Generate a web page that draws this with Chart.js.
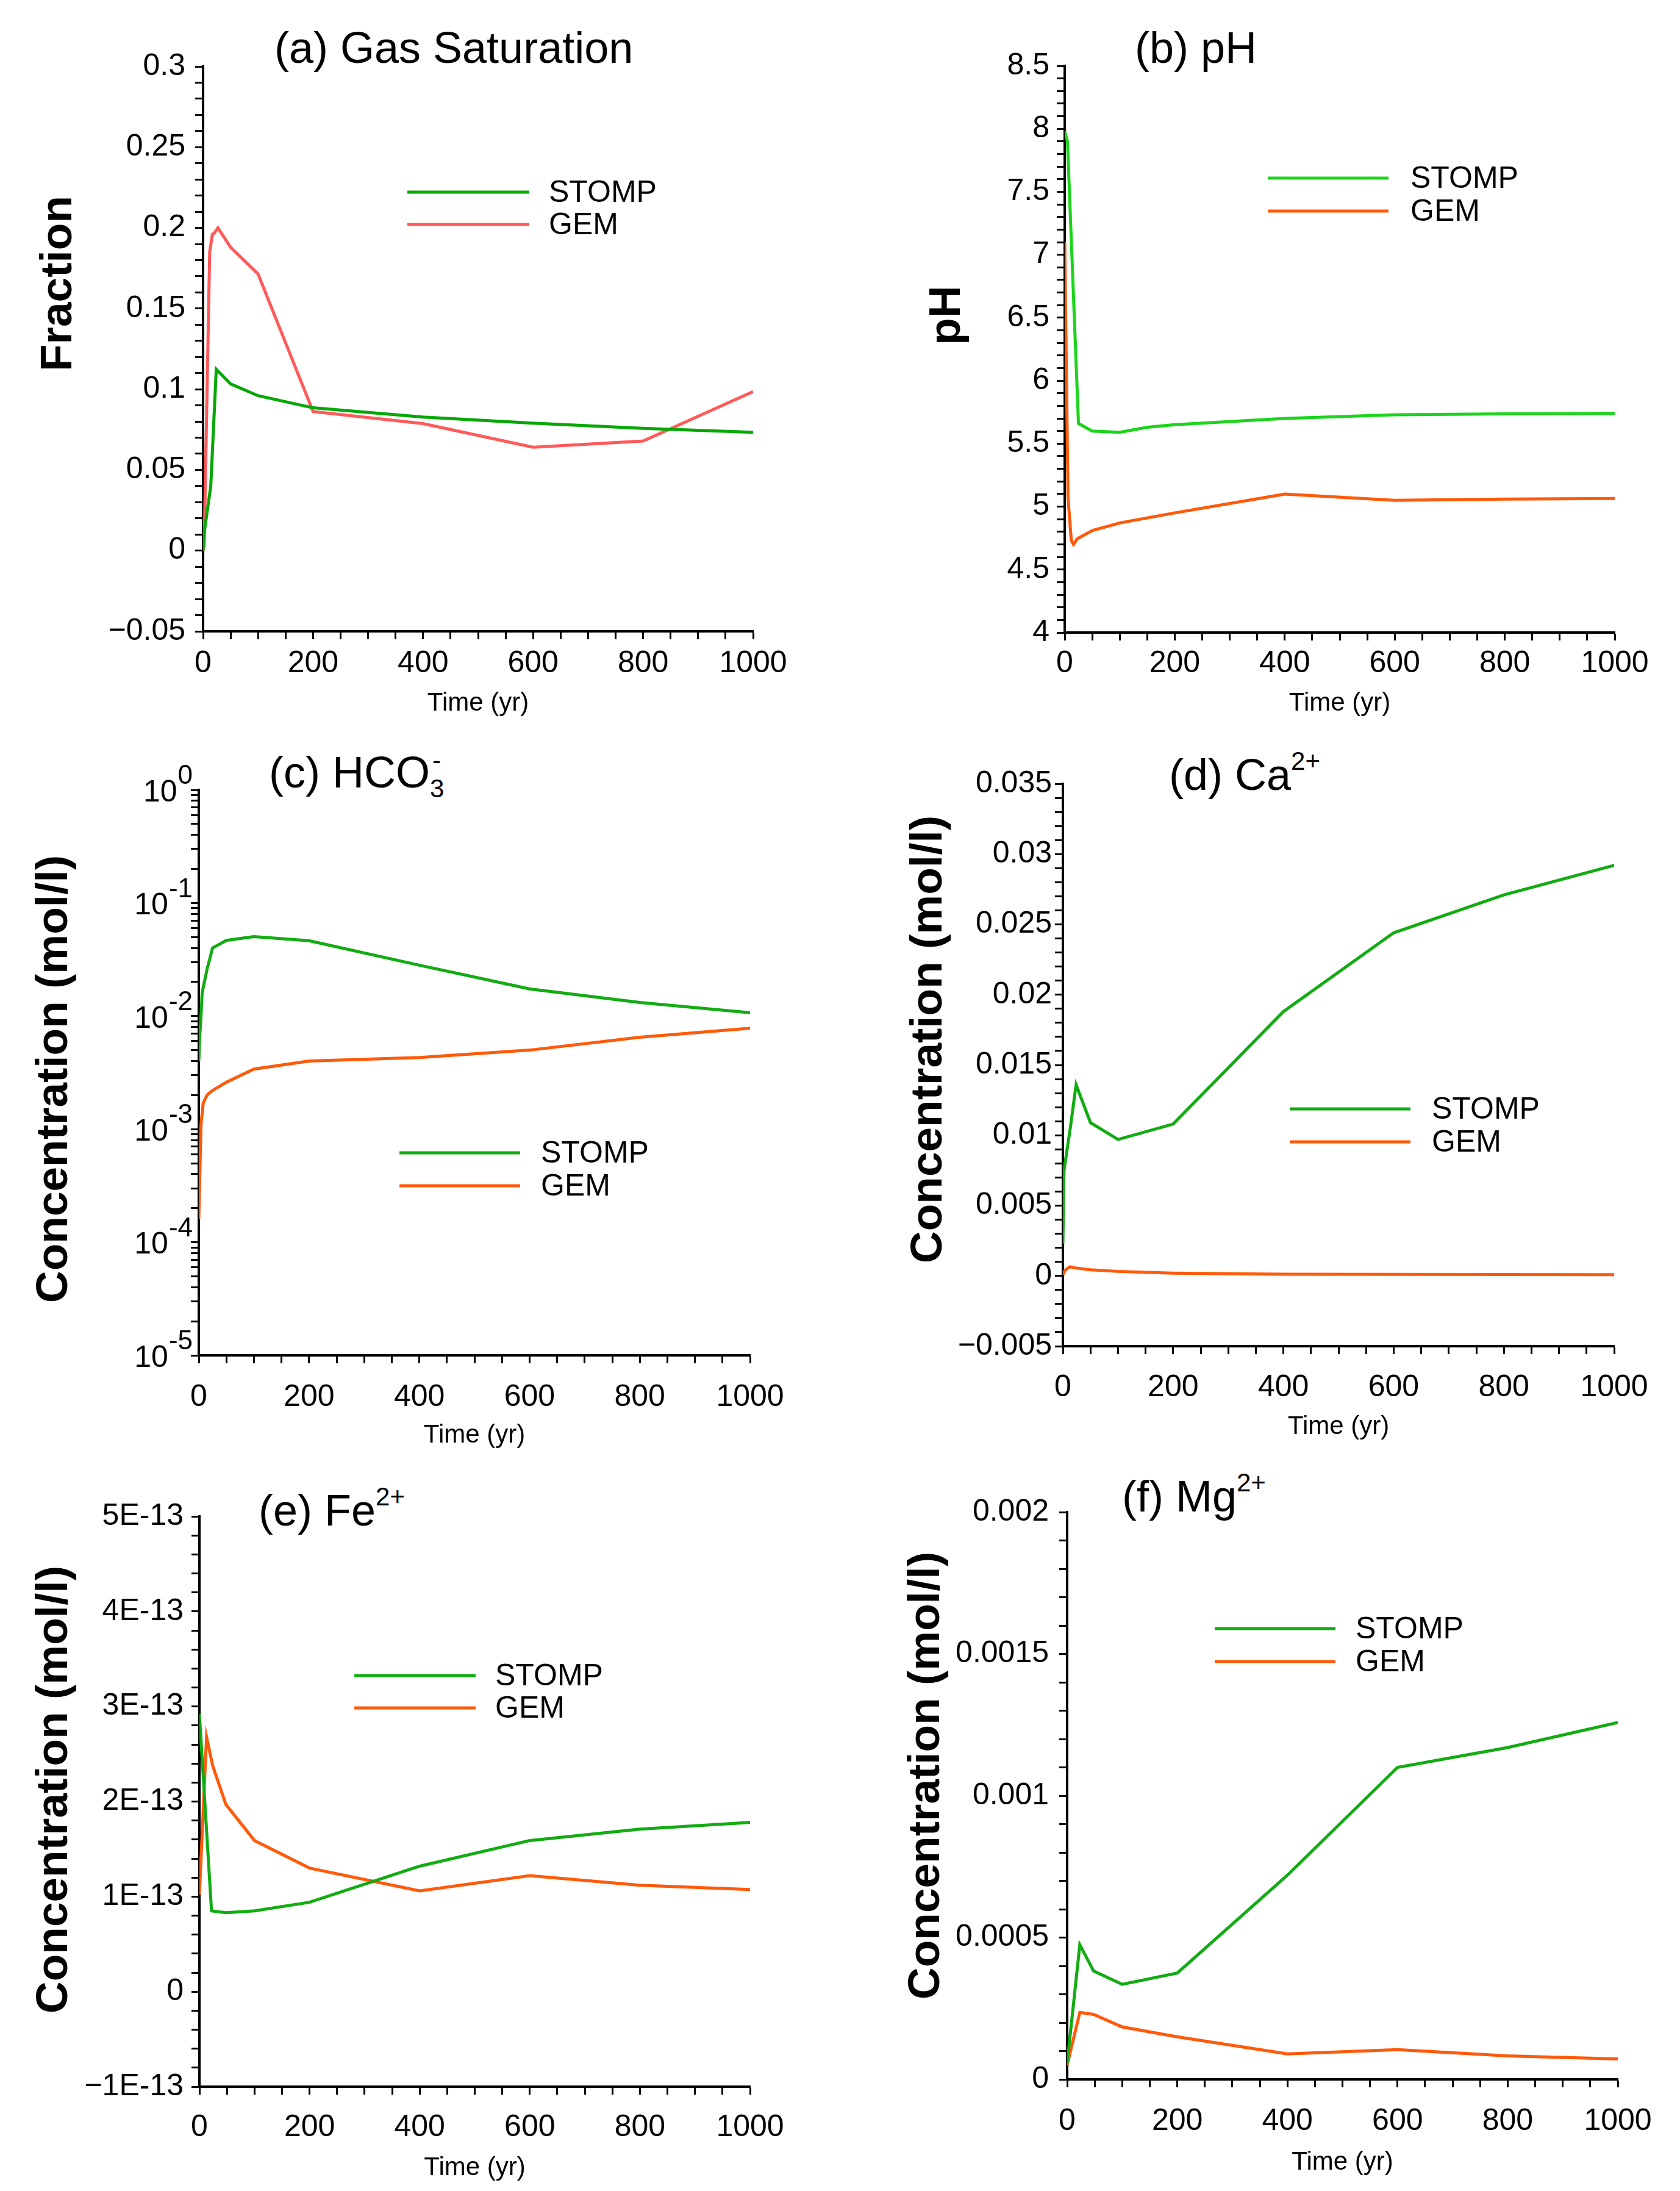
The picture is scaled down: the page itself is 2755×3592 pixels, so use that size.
<!DOCTYPE html>
<html lang="en">
<head>
<meta charset="UTF-8">
<title>STOMP vs GEM</title>
<script src="https://cdn.jsdelivr.net/npm/chart.js@4.4.1/dist/chart.umd.min.js"></script>
<style>
    body {
        margin: 0;
        width: 2755px;
        height: 3592px;
        position: relative;
        overflow: hidden;
        background: #fff;
        font-family: 'Liberation Sans', Arial, sans-serif;
    }
    canvas { position: absolute; }
    .ttl {
        position: absolute;
        font-size: 72px;
        line-height: 72px;
        white-space: nowrap;
        color: #000;
    }
    .sup { position: relative; top: -33px; font-size: 42px; }
    .stack { position: relative; font-size: 42px; }
    .stack .hi { position: absolute; left: 4px; top: -42px; }
    .stack .lo { position: relative; top: 16px; }
</style>
</head>
<body>
<div class="ttl" style="left:450px;top:42px">(a) Gas Saturation</div>
<div class="ttl" style="left:1861px;top:42px">(b) pH</div>
<div class="ttl" style="left:441px;top:1230px">(c) HCO<span class="stack"><span class="hi">-</span><span class="lo">3</span></span></div>
<div class="ttl" style="left:1917px;top:1234px">(d) Ca<span class="sup">2+</span></div>
<div class="ttl" style="left:424px;top:2440px">(e) Fe<span class="sup">2+</span></div>
<div class="ttl" style="left:1840px;top:2417px">(f) Mg<span class="sup">2+</span></div>

<script>
    const FONT = "'Liberation Sans', Arial, sans-serif";

    // time axis
    const xTicks = [0, 200, 400, 600, 800, 1000];

    // (a) gas saturation
    const aStompT = [0, 2, 14, 24, 50, 100, 200, 400, 600, 800, 1000];
    const aStompV = [0, 0.011, 0.040, 0.1124, 0.1033, 0.0960, 0.0885, 0.0828, 0.0790, 0.0758, 0.0733];
    const aGemT = [0, 2, 12, 17, 21, 27, 50, 100, 200, 400, 600, 800, 1000];
    const aGemV = [0, 0.003, 0.185, 0.196, 0.197, 0.200, 0.188, 0.1714, 0.0862, 0.0787, 0.0641, 0.0679, 0.0985];
    const aYTicks = [-0.05, 0, 0.05, 0.1, 0.15, 0.2, 0.25, 0.3];
    const aYLabels = ['\u22120.05', '0', '0.05', '0.1', '0.15', '0.2', '0.25', '0.3'];

    // (b) pH
    const bStompT = [0, 5, 25, 50, 100, 150, 200, 400, 600, 800, 1000];
    const bStompV = [7.98, 7.9, 5.66, 5.60, 5.59, 5.63, 5.65, 5.70, 5.729, 5.737, 5.74];
    const bGemT = [0, 6, 12, 16, 23, 50, 100, 200, 400, 600, 800, 1000];
    const bGemV = [7.1, 5.07, 4.73, 4.70, 4.745, 4.81, 4.87, 4.95, 5.10, 5.05, 5.06, 5.065];
    const bYTicks = [4, 4.5, 5, 5.5, 6, 6.5, 7, 7.5, 8, 8.5];
    const bYLabels = ['4', '4.5', '5', '5.5', '6', '6.5', '7', '7.5', '8', '8.5'];

    // (c) HCO3- (log axis)
    const cStompT = [0, 2, 4, 6, 15, 25, 50, 100, 200, 400, 600, 800, 1000];
    const cStompV = [0.004, 0.007, 0.010, 0.016, 0.026, 0.040, 0.0467, 0.0504, 0.0464, 0.0282, 0.0174, 0.0132, 0.0107];
    const cGemT = [0, 4, 8, 15, 25, 50, 100, 200, 400, 600, 800, 1000];
    const cGemV = [0.00016, 0.0011, 0.0017, 0.0020, 0.0022, 0.0026, 0.0034, 0.0040, 0.0043, 0.0050, 0.0065, 0.0078];
    const cYTicks = [1e-5, 1e-4, 1e-3, 1e-2, 1e-1, 1];
    const cYExps = ['-5', '-4', '-3', '-2', '-1', '0'];

    // (d) Ca2+
    const dStompT = [0, 2, 13, 24, 50, 100, 200, 400, 600, 800, 1000];
    const dStompV = [0.0023, 0.0075, 0.0104, 0.0136, 0.0109, 0.0097, 0.0108, 0.0188, 0.0244, 0.0271, 0.0292];
    const dGemT = [0, 4, 13, 20, 50, 100, 200, 400, 600, 800, 1000];
    const dGemV = [0.00007, 0.0004, 0.00065, 0.00058, 0.00043, 0.00032, 0.0002, 0.00012, 0.00011, 0.0001, 0.00009];
    const dYTicks = [-0.005, 0, 0.005, 0.01, 0.015, 0.02, 0.025, 0.03, 0.035];
    const dYLabels = ['\u22120.005', '0', '0.005', '0.01', '0.015', '0.02', '0.025', '0.03', '0.035'];

    // (e) Fe2+
    const eStompT = [0, 22, 48, 100, 200, 400, 600, 800, 1000];
    const eStompV = [2.92e-13, 0.85e-13, 0.83e-13, 0.85e-13, 0.94e-13, 1.32e-13, 1.59e-13, 1.71e-13, 1.78e-13];
    const eGemT = [0, 13, 24, 48, 100, 200, 400, 600, 800, 1000];
    const eGemV = [1.02e-13, 2.68e-13, 2.38e-13, 1.97e-13, 1.59e-13, 1.30e-13, 1.06e-13, 1.22e-13, 1.12e-13, 1.075e-13];
    const eYTicks = [-1e-13, 0, 1e-13, 2e-13, 3e-13, 4e-13, 5e-13];
    const eYLabels = ['\u22121E-13', '0', '1E-13', '2E-13', '3E-13', '4E-13', '5E-13'];

    // (f) Mg2+
    const fStompT = [0, 23, 48, 100, 200, 400, 600, 800, 1000];
    const fStompV = [0.000056, 0.000475, 0.000382, 0.000335, 0.000375, 0.00072, 0.0011, 0.00117, 0.001258];
    const fGemT = [0, 23, 48, 100, 200, 400, 600, 800, 1000];
    const fGemV = [0.00005, 0.000236, 0.000229, 0.000185, 0.00015, 0.00009, 0.000105, 0.000083, 0.000072];
    const fYTicks = [0, 0.0005, 0.001, 0.0015, 0.002];
    const fYLabels = ['0', '0.0005', '0.001', '0.0015', '0.002'];

    // draws the rotated y title, the in-plot legend and the 10^n labels
    const extras = {
        id: 'extras',
        afterDraw(chart, args, o) {
            const ctx = chart.ctx;
            if (o.yLabel) {
                ctx.save();
                ctx.translate(o.yLabel.x, o.yLabel.y);
                ctx.rotate(-Math.PI / 2);
                ctx.font = 'bold 73px ' + FONT;
                ctx.fillStyle = '#000';
                ctx.textAlign = 'center';
                ctx.textBaseline = 'middle';
                ctx.fillText(o.yLabel.text, 0, 0);
                ctx.restore();
            }
            if (o.legend) {
                const lg = o.legend;
                ctx.save();
                ctx.font = '50px ' + FONT;
                ctx.textBaseline = 'middle';
                ctx.textAlign = 'left';
                chart.data.datasets.forEach((ds, i) => {
                    ctx.strokeStyle = ds.borderColor;
                    ctx.lineWidth = 5;
                    ctx.beginPath();
                    ctx.moveTo(lg.x1, lg.y[i]);
                    ctx.lineTo(lg.x2, lg.y[i]);
                    ctx.stroke();
                    ctx.fillStyle = '#000';
                    ctx.fillText(ds.label, lg.tx, lg.y[i] + 2);
                });
                ctx.restore();
            }
            if (o.logLabels) {
                const ys = chart.scales.y;
                const right = chart.chartArea.left - 10;
                ctx.save();
                ctx.fillStyle = '#000';
                ctx.textAlign = 'right';
                ctx.textBaseline = 'middle';
                o.logLabels.values.forEach((v, i) => {
                    const py = ys.getPixelForValue(v);
                    ctx.font = '44px ' + FONT;
                    const w = ctx.measureText(o.logLabels.exps[i]).width;
                    ctx.fillText(o.logLabels.exps[i], right, py - 22);
                    ctx.font = '50px ' + FONT;
                    ctx.fillText('10', right - w - 1, py + 5);
                });
                ctx.restore();
            }
        }
    };
    Chart.register(extras);

    function labelFor(vals, labels, step) {
        return function (v) {
            for (let i = 0; i < vals.length; i++) {
                if (Math.abs(v - vals[i]) < step / 10) return labels[i];
            }
            return '';
        };
    }

    function series(label, t, v, color) {
        return {
            label: label,
            data: t.map((x, i) => ({ x: x, y: v[i] })),
            borderColor: color,
            borderWidth: 5,
            pointRadius: 0,
            tension: 0,
            fill: false
        };
    }

    function panel(p) {
        const cv = document.createElement('canvas');
        cv.width = p.box.w;
        cv.height = p.box.h;
        cv.style.left = p.box.x + 'px';
        cv.style.top = p.box.y + 'px';
        document.body.appendChild(cv);

        const yAxisW = p.area.l - p.box.x;
        const xAxisH = p.box.y + p.box.h - p.area.b;
        const axisGrid = { drawOnChartArea: false, tickLength: 13, tickWidth: 3, tickColor: '#000' };
        const axisBorder = { color: '#000', width: 4 };

        const y = Object.assign({
            afterFit: s => { s.width = yAxisW; },
            border: axisBorder,
            grid: axisGrid
        }, p.y);

        new Chart(cv, {
            type: 'line',
            data: { datasets: p.datasets },
            options: {
                responsive: false,
                animation: false,
                devicePixelRatio: 1,
                layout: {
                    padding: {
                        left: 0,
                        top: p.area.t - p.box.y,
                        right: p.box.x + p.box.w - p.area.r,
                        bottom: 0
                    }
                },
                plugins: {
                    legend: { display: false },
                    tooltip: { enabled: false },
                    extras: p.extras
                },
                scales: {
                    x: {
                        type: 'linear',
                        min: 0,
                        max: 1000,
                        afterFit: s => { s.height = xAxisH; },
                        border: axisBorder,
                        grid: axisGrid,
                        ticks: {
                            stepSize: 50,
                            autoSkip: false,
                            maxRotation: 0,
                            padding: p.xPad,
                            color: '#000',
                            font: { family: FONT, size: 50 },
                            callback: labelFor(xTicks, xTicks.map(String), 50)
                        },
                        title: {
                            display: true,
                            text: 'Time (yr)',
                            color: '#000',
                            font: { family: FONT, size: 42 },
                            padding: { top: 0, bottom: p.xTitlePad }
                        }
                    },
                    y: y
                }
            }
        });
    }

    function linY(min, max, step, vals, labels, pad) {
        return {
            type: 'linear',
            min: min,
            max: max,
            ticks: {
                stepSize: step,
                autoSkip: false,
                padding: pad,
                color: '#000',
                font: { family: FONT, size: 50 },
                callback: labelFor(vals, labels, step)
            }
        };
    }

    const STOMP = 'STOMP', GEM = 'GEM';
    const green = '#12ac12', orange = '#ff5a0a';

    panel({
        box: { x: 0, y: 0, w: 1377, h: 1200 },
        area: { l: 333, t: 109, r: 1235, b: 1035 },
        xPad: 10, xTitlePad: 21,
        y: linY(-0.05, 0.3, 0.01, aYTicks, aYLabels, 16),
        datasets: [series(STOMP, aStompT, aStompV, '#05a805'), series(GEM, aGemT, aGemV, '#ff5a5a')],
        extras: {
            yLabel: { text: 'Fraction', x: 97, y: 465 },
            legend: { x1: 668, x2: 868, tx: 900, y: [315, 368] }
        }
    });

    panel({
        box: { x: 1377, y: 0, w: 1378, h: 1200 },
        area: { l: 1746, t: 108, r: 2648, b: 1037 },
        xPad: 8, xTitlePad: 21,
        y: linY(4, 8.5, 0.1, bYTicks, bYLabels, 12),
        datasets: [series(STOMP, bStompT, bStompV, '#1cd41c'), series(GEM, bGemT, bGemV, orange)],
        extras: {
            yLabel: { text: 'pH', x: 177, y: 517 },
            legend: { x1: 702, x2: 900, tx: 936, y: [292, 346] }
        }
    });

    // log axis: decade ticks plus 2..9 minors
    const cMinor = [];
    cYTicks.forEach(d => {
        if (d >= 1) { cMinor.push(d); return; }
        for (let k = 1; k < 10; k++) cMinor.push(d * k);
    });

    panel({
        box: { x: 0, y: 1200, w: 1377, h: 1192 },
        area: { l: 326, t: 1295, r: 1230, b: 2222 },
        xPad: 26, xTitlePad: 13,
        y: {
            type: 'logarithmic',
            min: 1e-5,
            max: 1,
            afterBuildTicks: s => { s.ticks = cMinor.map(v => ({ value: v })); },
            ticks: { autoSkip: false, padding: 4, major: { enabled: false }, callback: () => '' }
        },
        datasets: [series(STOMP, cStompT, cStompV, green), series(GEM, cGemT, cGemV, orange)],
        extras: {
            yLabel: { text: 'Concentration (mol/l)', x: 90, y: 569 },
            legend: { x1: 655, x2: 853, tx: 887, y: [690, 744] },
            logLabels: { values: cYTicks, exps: cYExps }
        }
    });

    panel({
        box: { x: 1377, y: 1200, w: 1378, h: 1192 },
        area: { l: 1743, t: 1285, r: 2647, b: 2207 },
        xPad: 25, xTitlePad: 27,
        y: linY(-0.005, 0.035, 0.001, dYTicks, dYLabels, 5),
        datasets: [series(STOMP, dStompT, dStompV, green), series(GEM, dGemT, dGemV, orange)],
        extras: {
            yLabel: { text: 'Concentration (mol/l)', x: 147, y: 504 },
            legend: { x1: 738, x2: 936, tx: 971, y: [618, 672] }
        }
    });

    panel({
        box: { x: 0, y: 2392, w: 1377, h: 1200 },
        area: { l: 327, t: 2486, r: 1230, b: 3421 },
        xPad: 24, xTitlePad: 12,
        y: linY(-1e-13, 5e-13, 2e-14, eYTicks, eYLabels, 13),
        datasets: [series(STOMP, eStompT, eStompV, green), series(GEM, eGemT, eGemV, orange)],
        extras: {
            yLabel: { text: 'Concentration (mol/l)', x: 90, y: 542 },
            legend: { x1: 581, x2: 780, tx: 812, y: [355, 408] }
        }
    });

    panel({
        box: { x: 1377, y: 2392, w: 1378, h: 1200 },
        area: { l: 1750, t: 2479, r: 2653, b: 3409 },
        xPad: 26, xTitlePad: 21,
        y: linY(0, 0.002, 0.0001, fYTicks, fYLabels, 17),
        datasets: [series(STOMP, fStompT, fStompV, green), series(GEM, fGemT, fGemV, orange)],
        extras: {
            yLabel: { text: 'Concentration (mol/l)', x: 143, y: 519 },
            legend: { x1: 615, x2: 813, tx: 846, y: [278, 332] }
        }
    });
</script>
</body>
</html>
